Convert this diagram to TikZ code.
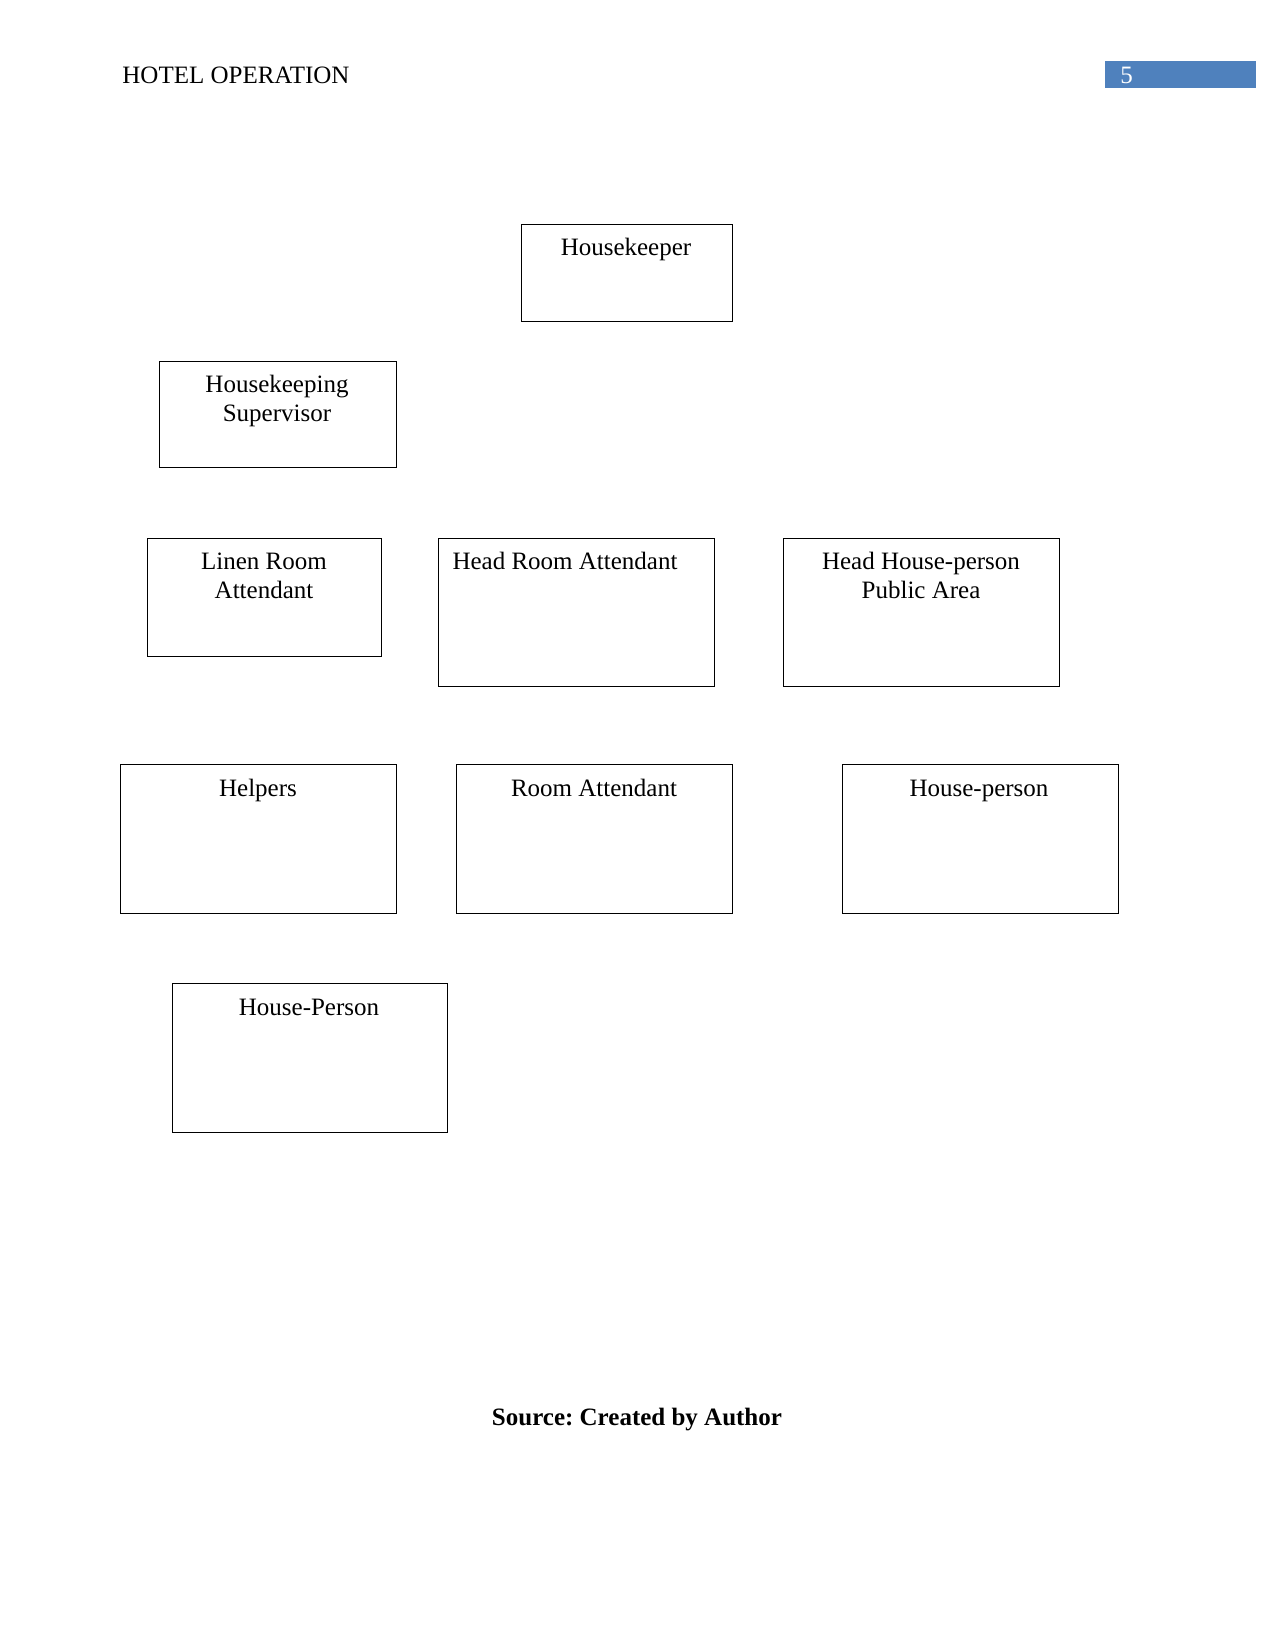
\documentclass[tikz,border=0pt]{standalone}
\usepackage{fontspec}
\setmainfont{Liberation Serif}
\usepackage{tikz}
\usetikzlibrary{positioning}
\definecolor{hdrblue}{HTML}{4F81BD}
\frenchspacing

\begin{document}
\begin{tikzpicture}[
    x=0.48pt, y=-0.48pt,
    every node/.style={font=\fontsize{12}{13.6}\selectfont},
    orgbox/.style 2 args={draw, line width=0.6pt, anchor=north west,
               inner sep=0pt, minimum width=#1*0.48pt, minimum height=#2*0.48pt},
    boxtext/.style={anchor=base, align=center, inner sep=0pt}
]
    \useasboundingbox (0,0) rectangle (1275,1651);

    % page header
    \node[anchor=base west, inner sep=0pt] (title) at (122,84) {HOTEL OPERATION};
    \node[fill=hdrblue, anchor=north west, inner sep=0pt,
          minimum width=151*0.48pt, minimum height=27*0.48pt] (pnum) at (1105,61) {};
    \node[anchor=base west, inner sep=0pt, text=white] (pnumt) at (1120,84) {5};

    % boxes
    \node[orgbox={211}{97}]  (hk)   at (521,224) {};
    \node[orgbox={237}{106}] (sup)  at (159,361) {};
    \node[orgbox={234}{118}] (linen) at (147,538) {};
    \node[orgbox={276}{148}] (hra)  at (438,538) {};
    \node[orgbox={276}{148}] (hhp)  at (783,538) {};
    \node[orgbox={276}{149}] (help) at (120,764) {};
    \node[orgbox={276}{149}] (ra)   at (456,764) {};
    \node[orgbox={276}{149}] (hp)   at (842,764) {};
    \node[orgbox={275}{149}] (hpp)  at (172,983) {};

    % box texts (two-line nodes sit on their last baseline)
    \node[boxtext] (hk-t)    at (626,256)  {Housekeeper};
    \node[boxtext] (sup-t)   at (277,421)  {Housekeeping\\Supervisor};
    \node[boxtext] (linen-t) at (264,598)  {Linen Room\\Attendant};
    \node[boxtext] (hra-t)   at (565,569)  {Head Room Attendant};
    \node[boxtext] (hhp-t)   at (921,598)  {Head House-person\\Public Area};
    \node[boxtext] (help-t)  at (258,796)  {Helpers};
    \node[boxtext] (ra-t)    at (594,796)  {Room Attendant};
    \node[boxtext] (hp-t)    at (979,796)  {House-person};
    \node[boxtext] (hpp-t)   at (309,1015) {House-Person};

    \node[boxtext, font=\fontsize{12}{13.6}\selectfont\bfseries] (src) at (637,1425) {Source: Created by Author};
\end{tikzpicture}
\end{document}
